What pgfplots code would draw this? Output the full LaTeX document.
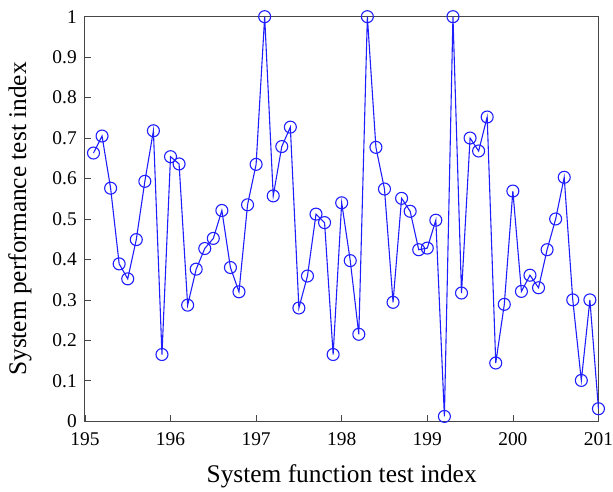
\documentclass[border=0pt]{standalone}
\usepackage{pgfplots}
\pgfplotsset{compat=1.18}
\usepackage{fontspec}
\setmainfont{Liberation Serif}
\definecolor{axgray}{RGB}{70,70,70}
\definecolor{lineblue}{RGB}{30,30,255}
\begin{document}
\begin{tikzpicture}
\begin{axis}[
  scale only axis,
  width=514bp, height=405bp,
  xmin=195, xmax=201, ymin=0, ymax=1,
  xtick={195,196,...,201},
  ytick={0,0.1,0.2,0.3,0.4,0.5,0.6,0.7,0.8,0.9,1},
  xticklabel={\textrm{\pgfmathprintnumber[assume math mode=true,1000 sep={}]{\tick}}},
  yticklabel={\textrm{\pgfmathprintnumber[assume math mode=true]{\tick}}},
  tick align=inside,
  xtick pos=bottom, ytick pos=left,
  major tick length=6bp,
  axis line style={axgray, line width=0.9pt},
  every tick/.style={axgray, line width=0.7pt},
  tick label style={font=\fontsize{19.5}{20}\selectfont\rmfamily, black, inner sep=0pt},
  xticklabel style={anchor=north, yshift=-11bp},
  yticklabel style={anchor=east, xshift=-8bp},
  label style={font=\fontsize{25.5}{27}\selectfont, inner sep=0pt},
  xlabel={System function test index},
  ylabel={System performance test index},
  xlabel style={at={(axis description cs:0.5,-0.1514)}, anchor=base},
  ylabel style={at={(axis description cs:-0.1498,0.5)}, anchor=north, rotate=0},
  clip=false,
]
\addplot[lineblue, line width=1.1pt, mark=o, mark size=6bp, mark options={line width=1.1pt}] coordinates {
(195.1,0.663) (195.2,0.705) (195.3,0.576) (195.4,0.389) (195.5,0.352)
(195.6,0.449) (195.7,0.593) (195.8,0.718) (195.9,0.165) (196.0,0.654)
(196.1,0.636) (196.2,0.287) (196.3,0.376) (196.4,0.427) (196.5,0.452)
(196.6,0.521) (196.7,0.380) (196.8,0.320) (196.9,0.535) (197.0,0.635)
(197.1,1.000) (197.2,0.557) (197.3,0.679) (197.4,0.727) (197.5,0.280)
(197.6,0.359) (197.7,0.512) (197.8,0.491) (197.9,0.165) (198.0,0.540)
(198.1,0.397) (198.2,0.215) (198.3,1.000) (198.4,0.677) (198.5,0.574)
(198.6,0.294) (198.7,0.551) (198.8,0.519) (198.9,0.424) (199.0,0.428)
(199.1,0.497) (199.2,0.012) (199.3,1.000) (199.4,0.317) (199.5,0.700)
(199.6,0.668) (199.7,0.752) (199.8,0.144) (199.9,0.289) (200.0,0.569)
(200.1,0.321) (200.2,0.361) (200.3,0.330) (200.4,0.424) (200.5,0.500)
(200.6,0.603) (200.7,0.300) (200.8,0.101) (200.9,0.300) (201.0,0.031)
};
\path (rel axis cs:-0.1654,-0.1736) rectangle (rel axis cs:1.0272,1.0412);
\end{axis}
\end{tikzpicture}
\end{document}
